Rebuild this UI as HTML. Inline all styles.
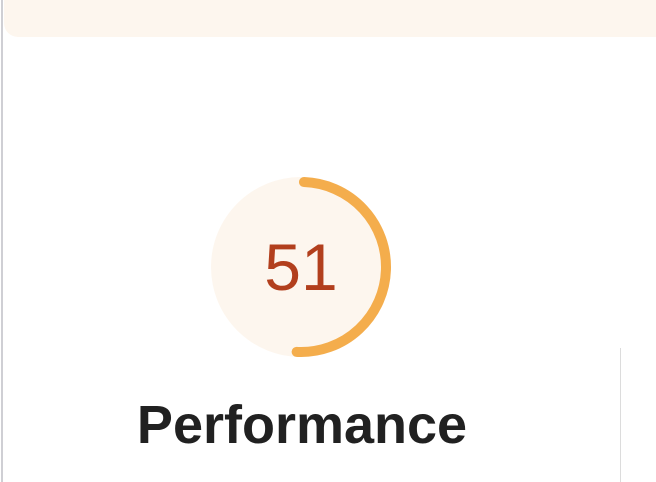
<!DOCTYPE html>
<html><head><meta charset="utf-8"><style>
html,body{margin:0;padding:0;background:#fff;width:656px;height:482px;overflow:hidden;font-family:"Liberation Sans",Arial,sans-serif}
</style></head><body>
<div style="position:absolute;left:1px;top:0;width:2px;height:482px;background:#cfcfd4"></div>
<div style="position:absolute;left:4px;top:0;width:660px;height:37px;background:#fdf6ee;border-bottom-left-radius:14px"></div>
<div style="position:absolute;left:620px;top:348px;width:1px;height:134px;background:#dcdcdc"></div>
<svg width="656" height="482" style="position:absolute;left:0;top:0">
<circle cx="301" cy="267" r="90" fill="#fdf6ee"/>
<circle id="arc" cx="301" cy="267" r="85" fill="none" stroke="#f4ad4c" stroke-width="10" stroke-linecap="round" transform="rotate(-88 301 267)"/>
<text x="301" y="290" text-anchor="middle" font-family="Liberation Sans, Arial, sans-serif" font-size="66" fill="#b23f1d">51</text>
</svg>
<div style="position:absolute;left:0;width:604px;top:393px;text-align:center;font-weight:bold;font-size:54px;color:#212121;line-height:64px">Performance</div>
<script>
const score = [51];
const arc = document.getElementById('arc');
const C = 2*Math.PI*85;
const len = C*score[0]/100 - 4;
arc.setAttribute('stroke-dasharray', len + ' ' + C);
</script>
</body></html>
